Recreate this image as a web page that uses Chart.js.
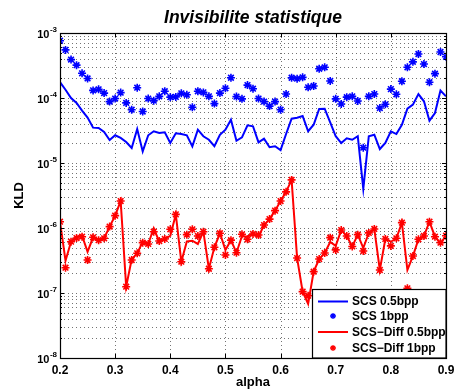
<!DOCTYPE html>
<html>
<head>
<meta charset="utf-8">
<script src="https://cdn.jsdelivr.net/npm/chart.js@4"></script>
<style>
  html, body { margin: 0; padding: 0; background: #fff; }
</style>
</head>
<body>
<canvas id="myChart" width="456" height="391"></canvas>
<script>
const alpha = [
  0.2, 0.21, 0.22, 0.23, 0.24, 0.25, 0.26, 0.27, 0.28, 0.29,
  0.3, 0.31, 0.32, 0.33, 0.34, 0.35, 0.36, 0.37, 0.38, 0.39,
  0.4, 0.41, 0.42, 0.43, 0.44, 0.45, 0.46, 0.47, 0.48, 0.49,
  0.5, 0.51, 0.52, 0.53, 0.54, 0.55, 0.56, 0.57, 0.58, 0.59,
  0.6, 0.61, 0.62, 0.63, 0.64, 0.65, 0.66, 0.67, 0.68, 0.69,
  0.7, 0.71, 0.72, 0.73, 0.74, 0.75, 0.76, 0.77, 0.78, 0.79,
  0.8, 0.81, 0.82, 0.83, 0.84, 0.85, 0.86, 0.87, 0.88, 0.89,
  0.9
];

// SCS 0.5bpp (blue line)
const scs05 = [
  1.75e-4, 1.34e-4, 1.0e-4, 8.4e-5, 6.4e-5, 5.0e-5, 3.5e-5, 3.45e-5, 3.0e-5, 2.26e-5,
  2.67e-5, 2.43e-5, 2.1e-5, 1.7e-5, 3.33e-5, 1.51e-5, 2.67e-5, 3.08e-5, 2.9e-5, 2.97e-5,
  2.03e-5, 2.86e-5, 2.79e-5, 2.67e-5, 1.8e-5, 3.25e-5, 2.58e-5, 2.28e-5, 1.81e-5, 2.72e-5,
  3.25e-5, 4.64e-5, 2.2e-5, 2.48e-5, 3.8e-5, 3.67e-5, 2.08e-5, 2.37e-5, 1.75e-5, 1.81e-5,
  1.58e-5, 2.79e-5, 4.8e-5, 4.97e-5, 5.28e-5, 3.08e-5, 3.88e-5, 6.8e-5, 6.85e-5, 4.23e-5,
  2.58e-5, 2.03e-5, 2.4e-5, 2.28e-5, 2.58e-5, 4.0e-6, 2.58e-5, 2.72e-5, 1.64e-5, 2.03e-5,
  3.08e-5, 2.79e-5, 3.88e-5, 6.85e-5, 7.9e-5, 1.15e-4, 8.9e-5, 4.48e-5, 5.88e-5, 1.3e-4,
  1.06e-4
];

// SCS 1bpp (blue stars)
const scs1 = [
  7.6e-4, 5.5e-4, 3.9e-4, 3.2e-4, 2.4e-4, 2.0e-4, 1.31e-4, 1.36e-4, 1.19e-4, 8.8e-5,
  9.8e-5, 1.21e-4, 8.4e-5, 6.6e-5, 1.44e-4, 6.2e-5, 9.8e-5, 9.1e-5, 1.06e-4, 1.27e-4,
  1.03e-4, 1.04e-4, 1.18e-4, 1.12e-4, 7.2e-5, 1.27e-4, 1.22e-4, 1.06e-4, 8.2e-5, 1.19e-4,
  1.41e-4, 2.05e-4, 1.05e-4, 9.7e-5, 1.58e-4, 1.39e-4, 9.8e-5, 8.8e-5, 7.5e-5, 8.8e-5,
  6.6e-5, 1.15e-4, 2.05e-4, 1.98e-4, 2.08e-4, 1.46e-4, 1.53e-4, 2.82e-4, 2.97e-4, 1.83e-4,
  9.7e-5, 8.1e-5, 1.03e-4, 1.06e-4, 9.0e-5, 1.72e-5, 1.06e-4, 1.15e-4, 7.0e-5, 8.0e-5,
  1.37e-4, 1.14e-4, 1.81e-4, 2.97e-4, 3.6e-4, 4.75e-4, 3.33e-4, 1.75e-4, 2.37e-4, 5.1e-4,
  4.3e-4
];

// SCS-Diff 0.5bpp (red line)
const diff05 = [
  1.25e-6, 3.14e-7, 6.15e-7, 7.35e-7, 7.6e-7, 4.3e-7, 7.2e-7, 6.5e-7, 6.95e-7, 1.05e-6,
  1.55e-6, 2.6e-6, 1.25e-7, 3.3e-7, 4.08e-7, 6.15e-7, 5.68e-7, 9.9e-7, 6.15e-7, 6.78e-7,
  7.6e-7, 1.62e-6, 3.03e-7, 6.2e-7, 6.38e-7, 5.68e-7, 8.77e-7, 2.36e-7, 5.05e-7, 8.3e-7,
  4.6e-7, 6.5e-7, 4.17e-7, 7.53e-7, 7.35e-7, 8.3e-7, 7.35e-7, 1.11e-6, 1.37e-6, 1.85e-6,
  2.6e-6, 3.6e-6, 5.5e-6, 3.45e-7, 1.05e-7, 6.8e-8, 2.13e-7, 3.33e-7, 4.12e-7, 6.1e-7,
  5.3e-7, 9.3e-7, 7.53e-7, 5.2e-7, 7.9e-7, 4.92e-7, 8.4e-7, 9.66e-7, 2.26e-7, 6.78e-7,
  6.15e-7, 6.95e-7, 1.21e-6, 2.26e-7, 3.7e-7, 6.7e-7, 7.53e-7, 1.25e-6, 7.35e-7, 5.82e-7,
  7.6e-7
];

// SCS-Diff 1bpp (red stars)
const diff1 = [
  1.25e-6, 2.45e-7, 6.15e-7, 7.0e-7, 7.35e-7, 3.22e-7, 7.2e-7, 6.5e-7, 6.95e-7, 1.05e-6,
  1.55e-6, 2.6e-6, 1.25e-7, 3.22e-7, 4.08e-7, 5.95e-7, 5.68e-7, 8.77e-7, 6.3e-7, 6.78e-7,
  9.55e-7, 1.62e-6, 3.03e-7, 7.9e-7, 9.55e-7, 7.53e-7, 8.77e-7, 2.36e-7, 5.05e-7, 8.3e-7,
  3.85e-7, 6.5e-7, 4.17e-7, 8.0e-7, 6.7e-7, 8.1e-7, 7.8e-7, 1.11e-6, 1.37e-6, 1.85e-6,
  2.6e-6, 3.6e-6, 5.5e-6, 3.45e-7, 1.05e-7, 9.1e-8, 2.13e-7, 3.33e-7, 4.12e-7, 7.1e-7,
  4.6e-7, 9.3e-7, 7.53e-7, 5.2e-7, 7.9e-7, 4.43e-7, 8.4e-7, 9.66e-7, 2.26e-7, 6.78e-7,
  5.3e-7, 6.95e-7, 1.21e-6, 1.18e-7, 3.7e-7, 6.7e-7, 7.53e-7, 1.25e-6, 7.35e-7, 5.95e-7,
  7.6e-7
];

const xTicks = [0.2, 0.3, 0.4, 0.5, 0.6, 0.7, 0.8, 0.9];
const xTickLabels = ["0.2", "0.3", "0.4", "0.5", "0.6", "0.7", "0.8", "0.9"];
const yDecades = [-8, -7, -6, -5, -4, -3];
const seriesLabels = ["SCS 0.5bpp", "SCS 1bpp", "SCS\u2212Diff 0.5bpp", "SCS\u2212Diff 1bpp"];

const FONT = "'Liberation Sans', Arial, Helvetica, sans-serif";
const BLUE = "#0000ff";
const RED = "#ff0000";

function pts(arr) {
  return alpha.map((a, i) => ({ x: a, y: arr[i] }));
}

function drawStar(c, x, y, r, color, w) {
  c.save();
  c.strokeStyle = color;
  c.lineWidth = w;
  c.beginPath();
  c.moveTo(x - r, y); c.lineTo(x + r, y);
  c.moveTo(x, y - r); c.lineTo(x, y + r);
  const d = r * 0.707;
  c.moveTo(x - d, y - d); c.lineTo(x + d, y + d);
  c.moveTo(x - d, y + d); c.lineTo(x + d, y - d);
  c.stroke();
  c.restore();
}

const matlabAxes = {
  id: "matlabAxes",
  beforeDatasetsDraw(chart) {
    const c = chart.ctx;
    const a = chart.chartArea;
    const xs = chart.scales.x, ys = chart.scales.y;
    c.save();
    c.strokeStyle = "rgba(0,0,0,0.55)";
    c.lineWidth = 1;
    c.setLineDash([1, 3]);
    // vertical grid at major x ticks
    xTicks.forEach(v => {
      const px = Math.round(xs.getPixelForValue(v)) + 0.5;
      c.beginPath(); c.moveTo(px, a.top); c.lineTo(px, a.bottom); c.stroke();
    });
    // horizontal grid at every decade and minor value
    yDecades.forEach(e => {
      for (let k = 1; k <= 9; k++) {
        const v = k * Math.pow(10, e);
        if (v > 1e-3 * 1.0001) break;
        const py = Math.round(ys.getPixelForValue(v)) + 0.5;
        c.beginPath(); c.moveTo(a.left, py); c.lineTo(a.right, py); c.stroke();
      }
    });
    c.restore();
  },
  afterDatasetsDraw(chart) {
    const c = chart.ctx;
    const a = chart.chartArea;
    const xs = chart.scales.x, ys = chart.scales.y;
    c.save();
    c.setLineDash([]);
    c.strokeStyle = "#000";
    c.lineWidth = 1;

    // inward tick marks
    c.beginPath();
    xTicks.forEach(v => {
      const px = Math.round(xs.getPixelForValue(v)) + 0.5;
      c.moveTo(px, a.bottom); c.lineTo(px, a.bottom - 4);
      c.moveTo(px, a.top); c.lineTo(px, a.top + 4);
    });
    yDecades.forEach(e => {
      for (let k = 1; k <= 9; k++) {
        const v = k * Math.pow(10, e);
        if (v > 1e-3 * 1.0001) break;
        const py = Math.round(ys.getPixelForValue(v)) + 0.5;
        const len = k === 1 ? 4 : 2;
        c.moveTo(a.left, py); c.lineTo(a.left + len, py);
        c.moveTo(a.right, py); c.lineTo(a.right - len, py);
      }
    });
    c.stroke();

    // box
    c.lineWidth = 1.2;
    c.strokeRect(Math.round(a.left) + 0.5, Math.round(a.top) + 0.5,
      Math.round(a.right - a.left), Math.round(a.bottom - a.top));

    c.fillStyle = "#000";
    // x tick labels
    c.font = "bold 12px " + FONT;
    c.textAlign = "center";
    c.textBaseline = "alphabetic";
    xTicks.forEach((v, i) => {
      c.fillText(xTickLabels[i], xs.getPixelForValue(v), a.bottom + 15.5);
    });

    // y tick labels 10^e
    yDecades.forEach(e => {
      const py = ys.getPixelForValue(Math.pow(10, e));
      const exp = "-" + (-e);
      c.font = "bold 8px " + FONT;
      const ew = c.measureText(exp).width;
      c.textAlign = "left";
      c.fillText(exp, a.left - 3 - ew, py - 1.5);
      c.font = "bold 11px " + FONT;
      c.textAlign = "right";
      c.fillText("10", a.left - 3 - ew - 0.5, py + 4.5);
    });

    // axis titles
    c.font = "bold 13px " + FONT;
    c.textAlign = "center";
    c.fillText("alpha", (a.left + a.right) / 2, 386);
    c.save();
    c.translate(23, (a.top + a.bottom) / 2);
    c.rotate(-Math.PI / 2);
    c.fillText("KLD", 0, 0);
    c.restore();

    // title
    c.font = "italic bold 17.5px " + FONT;
    c.fillText("Invisibilite statistique", (a.left + a.right) / 2, 22.5);

    // legend
    const lx = 312.5, ly = 289.5, lw = a.right - 312.5, lh = a.bottom - 289.5;
    c.fillStyle = "#fff";
    c.fillRect(lx, ly, lw, lh);
    c.strokeStyle = "#000";
    c.lineWidth = 1.2;
    c.strokeRect(lx, ly, lw, lh);
    const rows = [301.5, 316, 332, 348];
    chart.data.datasets.forEach((ds, i) => {
      const y = rows[i];
      if (ds.showLine === false) {
        drawStar(c, 333, y, 3, ds.borderColor, 1.3);
      } else {
        c.strokeStyle = ds.borderColor;
        c.lineWidth = 2;
        c.beginPath(); c.moveTo(318, y); c.lineTo(348, y); c.stroke();
      }
      c.fillStyle = "#000";
      c.font = "bold 12px " + FONT;
      c.textAlign = "left";
      c.textBaseline = "middle";
      c.fillText(ds.label, 352, y + 0.5);
    });
    c.restore();
  }
};

const ctx = document.getElementById("myChart").getContext("2d");
const myChart = new Chart(ctx, {
  type: "line",
  data: {
    datasets: [
      {
        label: seriesLabels[0],
        data: pts(scs05),
        borderColor: BLUE,
        backgroundColor: BLUE,
        borderWidth: 2,
        pointRadius: 0,
        tension: 0,
        fill: false,
      },
      {
        label: seriesLabels[1],
        data: pts(scs1),
        showLine: false,
        borderColor: BLUE,
        backgroundColor: BLUE,
        pointStyle: "star",
        pointRadius: 4,
        pointBorderWidth: 1.6,
      },
      {
        label: seriesLabels[2],
        data: pts(diff05),
        borderColor: RED,
        backgroundColor: RED,
        borderWidth: 2,
        pointRadius: 0,
        tension: 0,
        fill: false,
      },
      {
        label: seriesLabels[3],
        data: pts(diff1),
        showLine: false,
        borderColor: RED,
        backgroundColor: RED,
        pointStyle: "star",
        pointRadius: 4,
        pointBorderWidth: 1.6,
      },
    ],
  },
  options: {
    responsive: false,
    animation: false,
    layout: { padding: { left: 60, right: 10, top: 33, bottom: 33 } },
    plugins: {
      legend: { display: false },
      title: { display: false },
      tooltip: { enabled: false },
    },
    scales: {
      x: {
        type: "linear",
        min: 0.2,
        max: 0.9,
        ticks: { display: false },
        grid: { display: false, drawTicks: false },
        border: { display: false },
      },
      y: {
        type: "logarithmic",
        min: 1e-8,
        max: 1e-3,
        ticks: { display: false },
        grid: { display: false, drawTicks: false },
        border: { display: false },
      },
    },
  },
  plugins: [matlabAxes],
});
</script>
</body>
</html>
